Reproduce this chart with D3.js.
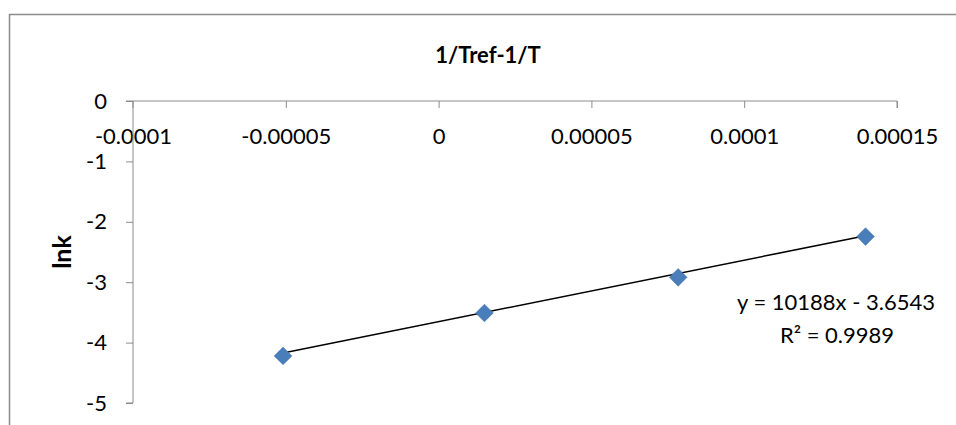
<!DOCTYPE html>
<html>
<head>
<meta charset="utf-8">
<script src="https://cdn.jsdelivr.net/npm/d3@7"></script>
<style>
  body { margin: 0; background: #fff; }
  text { font-family: Lato, "Open Sans", sans-serif; }
</style>
</head>
<body>
<div id="chart"></div>
<script>
// data
const xValues = [-0.0000509, 0.0000150, 0.0000784, 0.0001397];
const yValues = [-4.22, -3.51, -2.92, -2.245];
const xTicks = [-0.0001, -0.00005, 0, 0.00005, 0.0001, 0.00015];
const xTickLabels = ["-0.0001", "-0.00005", "0", "0.00005", "0.0001", "0.00015"];
const yTicks = [0, -1, -2, -3, -4, -5];
const trendSlope = 10188;
const trendIntercept = -3.6543;
const trendLabel = "y = 10188x - 3.6543";
const r2Label = "R² = 0.9989";

const W = 956, H = 425;
const plot = { left: 133, right: 897, top: 101, bottom: 403 };

const svg = d3.select("#chart").append("svg")
    .attr("width", W)
    .attr("height", H);

// outer chart border (cut off at right and bottom)
svg.append("rect")
    .attr("x", 9.5).attr("y", 14.5)
    .attr("width", W).attr("height", H)
    .attr("fill", "none")
    .attr("stroke", "#8c8c8c")
    .attr("stroke-width", 1.5);

const x = d3.scaleLinear()
    .domain([-0.0001, 0.00015])
    .range([plot.left, plot.right]);
const y = d3.scaleLinear()
    .domain([-5, 0])
    .range([plot.bottom, plot.top]);

// x axis sits at y = 0 (top of plot)
const xAxis = svg.append("g")
    .attr("transform", `translate(0,${y(0)})`)
    .call(d3.axisBottom(x).tickValues(xTicks).tickSize(7).tickPadding(20)
        .tickFormat((d, i) => xTickLabels[i]));
xAxis.select(".domain").attr("stroke", "#8c8c8c").attr("d", `M${plot.left},7V0H${plot.right}V7`);
xAxis.selectAll(".tick line").attr("stroke", "#8c8c8c");
xAxis.selectAll(".tick").filter(d => d === -0.0001).select("line").remove();
xAxis.selectAll("text").attr("font-size", "22px").attr("fill", "#000")
    .attr("font-family", "Lato, sans-serif");

const yAxis = svg.append("g")
    .attr("transform", `translate(${plot.left},0)`)
    .call(d3.axisLeft(y).tickValues(yTicks).tickSize(7).tickPadding(19)
        .tickFormat(d3.format("d")));
yAxis.select(".domain").attr("stroke", "#8c8c8c").attr("d", `M-7,${plot.top}H0V${plot.bottom}H-7`);
yAxis.selectAll(".tick line").attr("stroke", "#8c8c8c");
yAxis.selectAll("text").attr("font-size", "22px").attr("fill", "#000")
    .attr("font-family", "Lato, sans-serif")
    .text(d => d === 0 ? "0" : "-" + Math.abs(d));

// axis titles
svg.append("text")
    .attr("x", 488).attr("y", 63)
    .attr("text-anchor", "middle")
    .attr("font-size", "22px")
    .attr("font-weight", "bold")
    .text("1/Tref-1/T");

svg.append("text")
    .attr("transform", "translate(71,252) rotate(-90)")
    .attr("text-anchor", "middle")
    .attr("font-size", "25px")
    .attr("font-weight", "bold")
    .text("lnk");

// linear trendline
const xExt = d3.extent(xValues);
svg.append("path")
    .datum(xExt)
    .attr("fill", "none")
    .attr("stroke", "#000")
    .attr("stroke-width", 1.5)
    .attr("d", d3.line()
        .x(d => x(d))
        .y(d => y(trendSlope * d + trendIntercept)));

// diamond markers
const pts = xValues.map((v, i) => ({ x: v, y: yValues[i] }));
svg.append("g")
    .selectAll("path")
    .data(pts)
    .join("path")
    .attr("transform", d => `translate(${x(d.x)},${y(d.y)})`)
    .attr("d", d3.symbol().type(d3.symbolDiamond2).size(200))
    .attr("fill", "#4a7ebb")
    .attr("stroke", "#3e6fa8")
    .attr("stroke-width", 0.5);

// trendline label
svg.append("text")
    .attr("x", 836).attr("y", 310)
    .attr("text-anchor", "middle")
    .attr("font-size", "22px")
    .text(trendLabel);
svg.append("text")
    .attr("x", 837).attr("y", 343)
    .attr("text-anchor", "middle")
    .attr("font-size", "22px")
    .text(r2Label);
</script>
</body>
</html>
